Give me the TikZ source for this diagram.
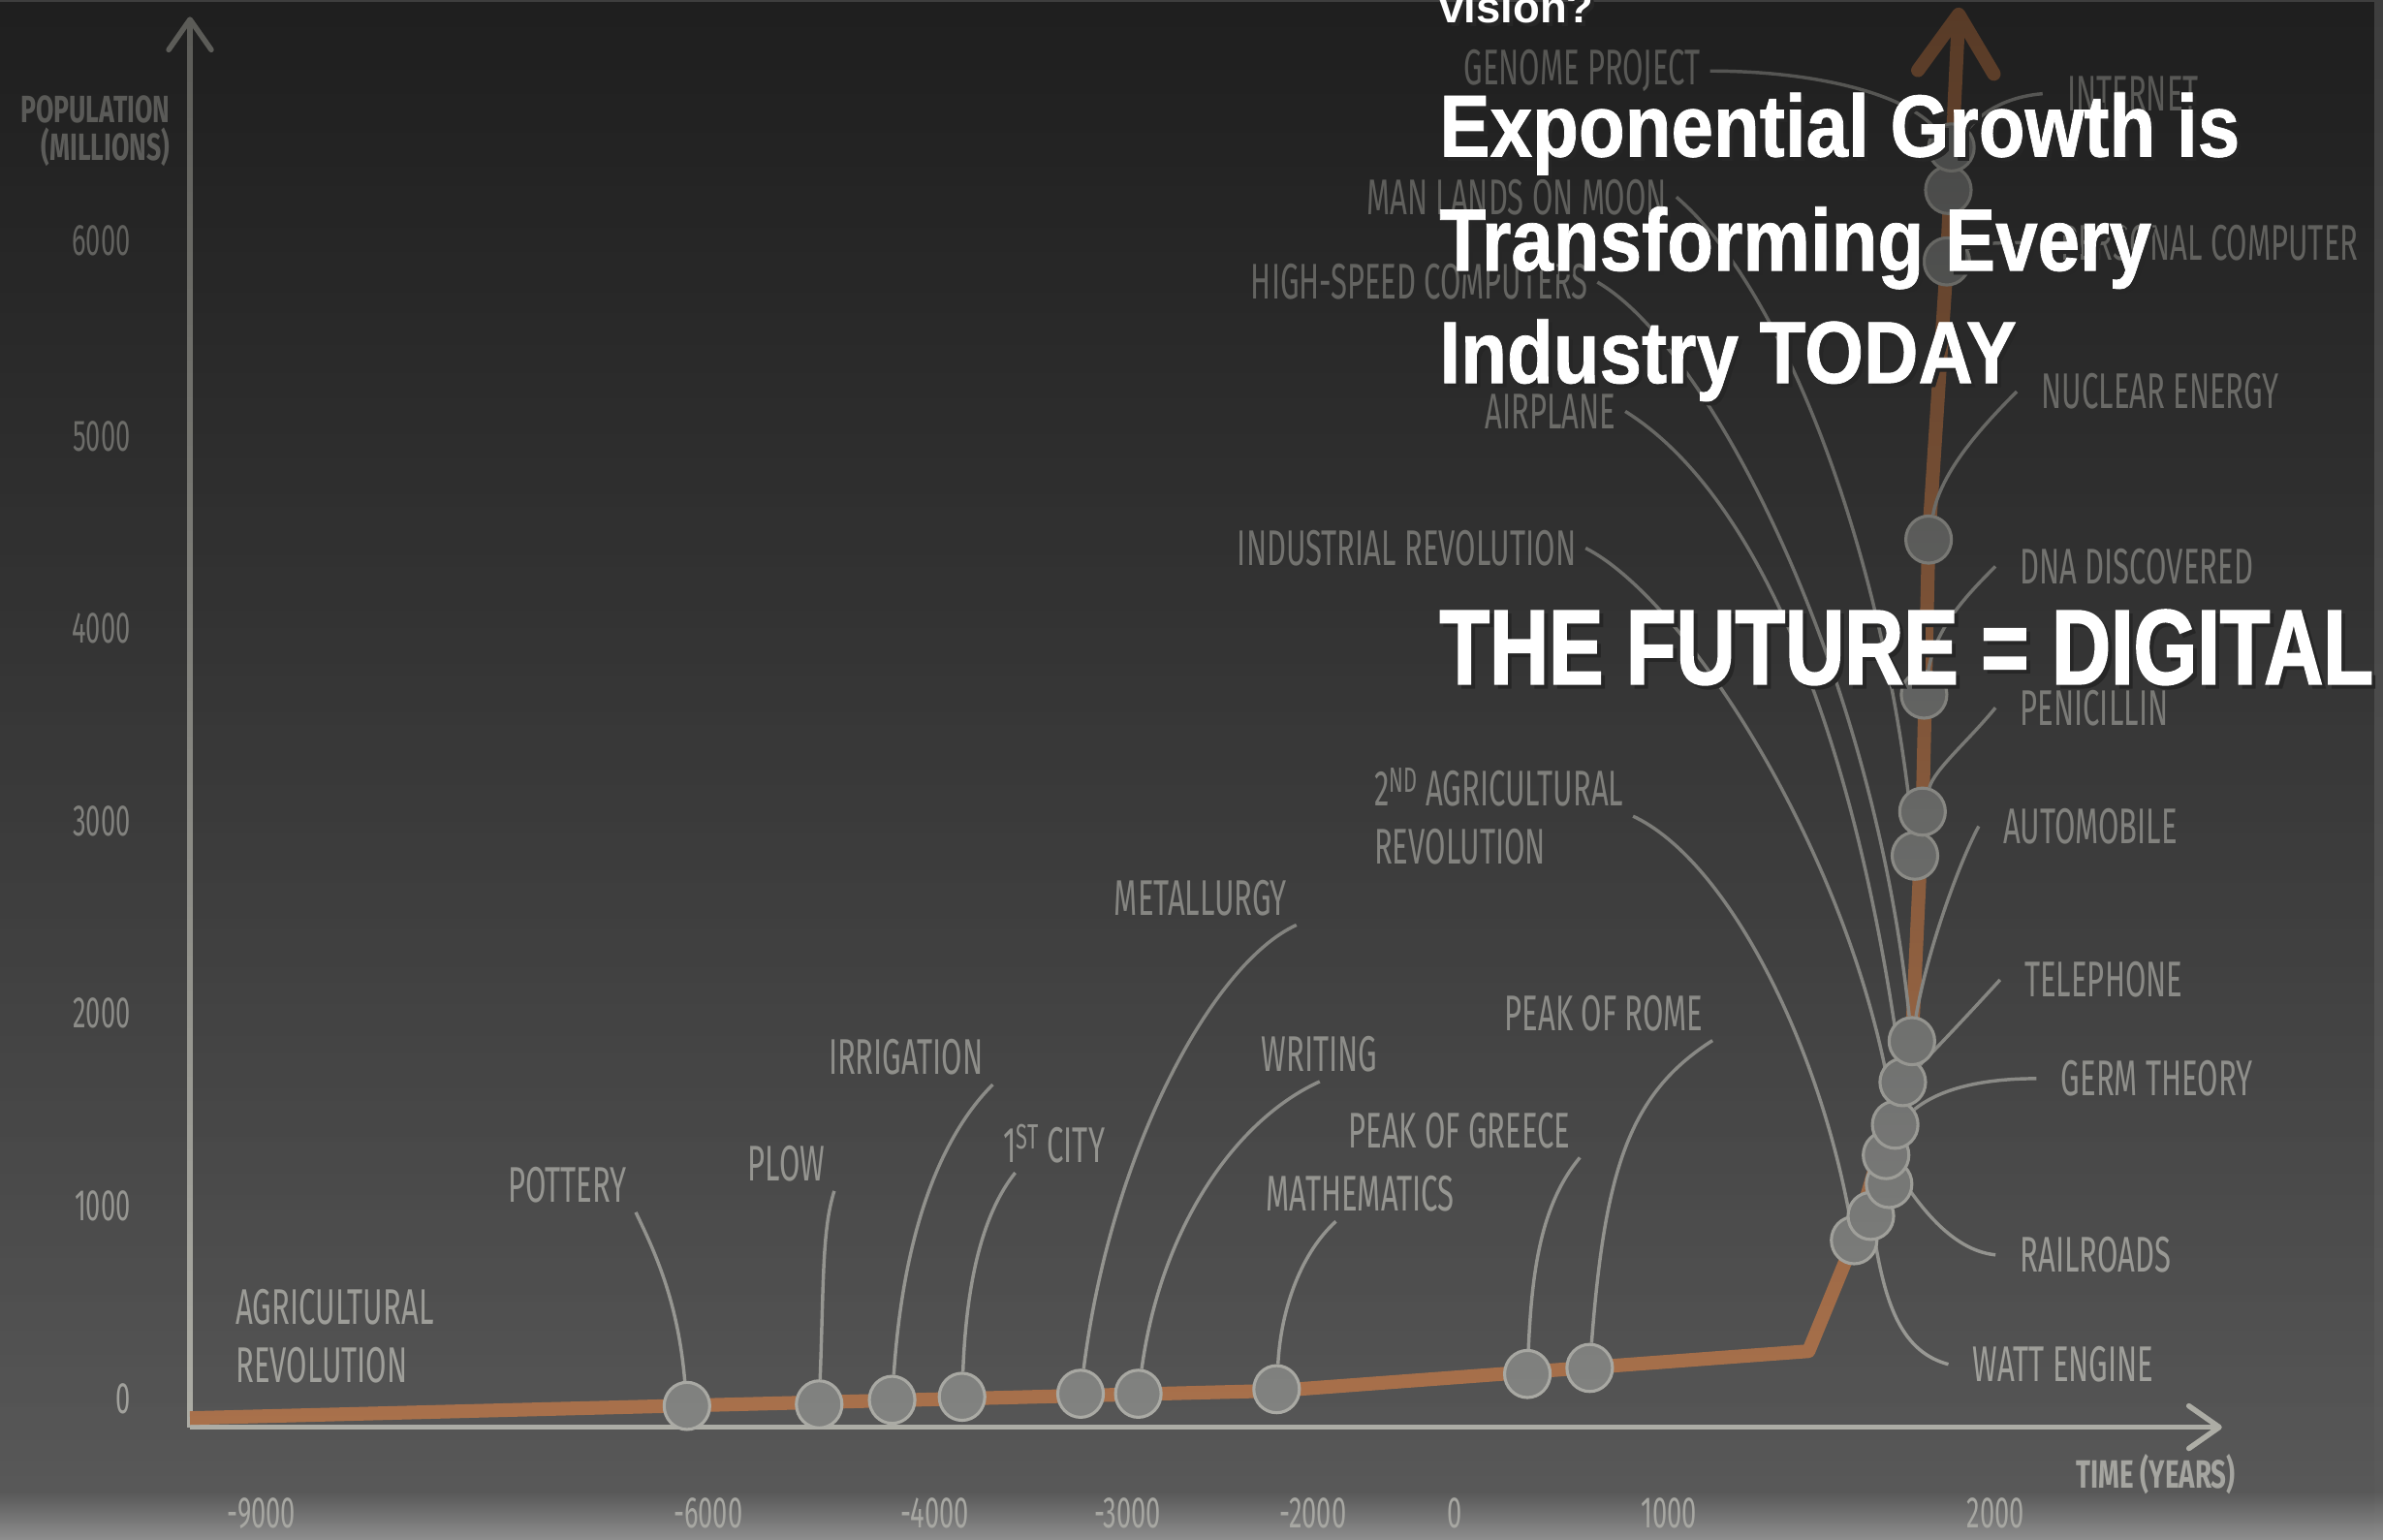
\documentclass[tikz,border=0pt]{standalone}
\usepackage{fontspec}
\setmainfont{Liberation Sans}
\newfontfamily\tagfont{Fira Sans}[FakeStretch=0.6]
\newfontfamily\axfont{Fira Sans}[FakeStretch=0.68]
\newfontfamily\headfont{Liberation Sans}[FakeStretch=0.86,FakeBold=0.8]
\newfontfamily\bigfont{Liberation Sans}[FakeStretch=0.77,FakeBold=1.6]
\usepackage{tikz}
\usetikzlibrary{positioning,shapes.geometric,arrows.meta,fadings}
\usepackage{xcolor}

\definecolor{bgtop}{HTML}{3E3E3E}
\definecolor{bgbot}{HTML}{5B5B5B}
\definecolor{bgfoot}{HTML}{8E8E8E}
\definecolor{tagcol}{HTML}{A9A9A4}
\definecolor{linkcol}{HTML}{A3A39E}
\definecolor{axiscol}{HTML}{B4B4AC}
\definecolor{dotfill}{HTML}{878886}
\definecolor{dotrim}{HTML}{B2B2AC}
\definecolor{rust}{HTML}{B0764F}

\tikzfading[name=veilfade,top color=transparent!50,bottom color=transparent!100]
\pgfdeclarelayer{back}
\pgfdeclarelayer{veil}
\pgfdeclarelayer{front}
\pgfsetlayers{back,main,veil,front}

\newcommand\shadowed[1]{\makebox[0pt][l]{\kern2.5pt\raisebox{-2.5pt}{\color{black!85}#1}}#1}

\begin{document}
\begin{tikzpicture}[x=1pt,y=-1pt,
    dot/.style={ellipse,draw=dotrim,fill=dotfill,line width=2pt,minimum width=30pt,minimum height=31pt,inner sep=0pt},
    tag/.style={text=tagcol,font=\tagfont\fontsize{33}{38.5}\selectfont,inner sep=6pt,anchor=base west},
    num/.style={text=tagcol,font=\tagfont\fontsize{29}{30}\selectfont,inner sep=6pt},
    axtitle/.style={text=tagcol,font=\axfont\bfseries\fontsize{25}{25}\selectfont,inner sep=6pt},
    head/.style={text=white,inner sep=0pt,anchor=base west},
    link/.style={draw=linkcol,line width=2.2pt},
    growth/.style={draw=rust,line width=9pt,line join=round},
    axis/.style={draw=axiscol,line width=3.5pt}]

    \begin{pgfonlayer}{back}
        \shade[top color=bgtop,bottom color=bgbot] (0,0) rectangle (1568,1013);
        \shade[top color=bgbot,bottom color=bgfoot] (0,982) rectangle (1568,1013);
    \end{pgfonlayer}
    \useasboundingbox (0,0) rectangle (1568,1013);

    \coordinate (o) at (125,939);
    \coordinate (ytip) at (125,11);
    \coordinate (xtip) at (1462,939);

    \node[dot] (d1) at (452,925) {};
    \node[dot] (d2) at (539,924) {};
    \node[dot] (d3) at (587,921) {};
    \node[dot] (d4) at (633,919) {};
    \node[dot] (d5) at (711,917) {};
    \node[dot] (d6) at (749,917) {};
    \node[dot] (d7) at (840,914) {};
    \node[dot] (d8) at (1005,904) {};
    \node[dot] (d9) at (1046,900) {};
    \node[dot] (d10) at (1220,816) {};
    \node[dot] (d11) at (1231,800) {};
    \node[dot] (d12) at (1243,779) {};
    \node[dot] (d13) at (1241,760) {};
    \node[dot] (d14) at (1247,740) {};
    \node[dot] (d15) at (1252,712) {};
    \node[dot] (d16) at (1258,685) {};
    \node[dot] (d17) at (1260,563) {};
    \node[dot] (d18) at (1265,534) {};
    \node[dot] (d19) at (1266,457) {};
    \node[dot] (d20) at (1269,355) {};
    \node[dot] (d21) at (1281,172) {};
    \node[dot] (d22) at (1282,125) {};
    \node[dot] (d23) at (1284,97) {};

    \node[tag,anchor=west,align=left] (t0) at (149,879) {AGRICULTURAL\\REVOLUTION};
    \node[tag] (t1) at (328,791) {POTTERY};
    \node[tag] (t2) at (486,777) {PLOW};
    \node[tag] (t3) at (539,707) {IRRIGATION};
    \node[tag] (t4) at (654,765) {1\textsuperscript{ST} CITY};
    \node[tag] (t5) at (727,602) {METALLURGY};
    \node[tag] (t6) at (824,705) {WRITING};
    \node[tag] (t7) at (827,797) {MATHEMATICS};
    \node[tag] (t8) at (881,755) {PEAK OF GREECE};
    \node[tag] (t9) at (984,678) {PEAK OF ROME};
    \node[tag,anchor=west,align=left] (t10) at (898,537) {2\textsuperscript{ND} AGRICULTURAL\\REVOLUTION};
    \node[tag] (t11) at (808,372) {INDUSTRIAL REVOLUTION};
    \node[tag] (t12) at (971,282) {AIRPLANE};
    \node[tag] (t13) at (817,197) {HIGH-SPEED COMPUTERS};
    \node[tag] (t14) at (893,141) {MAN LANDS ON MOON};
    \node[tag] (t15) at (957,56) {GENOME PROJECT};
    \node[tag] (t16) at (1354,73) {INTERNET};
    \node[tag] (t17) at (1350,171) {PERSONAL COMPUTER};
    \node[tag] (t18) at (1337,269) {NUCLEAR ENERGY};
    \node[tag] (t19) at (1323,384) {DNA DISCOVERED};
    \node[tag] (t20) at (1323,477) {PENICILLIN};
    \node[tag] (t21) at (1312,555) {AUTOMOBILE};
    \node[tag] (t22) at (1326,656) {TELEPHONE};
    \node[tag] (t23) at (1350,721) {GERM THEORY};
    \node[tag] (t24) at (1323,837) {RAILROADS};
    \node[tag] (t25) at (1292,909) {WATT ENGINE};

    \foreach \v/\h in {6000/158,5000/287,4000/413,3000/540,2000/666,1000/793,0/920}
        \node[num,anchor=base east] (y\v) at (92,\h+10) {\v};
    \foreach \v/\h in {-9000/172,-6000/466,-4000/615,-3000/742,-2000/864,0/957,1000/1098,2000/1313}
        \node[num,anchor=base] (x\v) at (\h,1005) {\v};
    \node[axtitle,anchor=east,align=right] (ylab) at (118,86) {POPULATION\\(MILLIONS)};
    \node[axtitle,anchor=base west,font=\axfont\bfseries\fontsize{26}{26}\selectfont] (xlab) at (1360,979) {TIME (YEARS)};

    \begin{pgfonlayer}{back}
        \draw[axis,-{Straight Barb[length=20pt,width=28pt,round]}] (o) -- (ytip);
        \draw[axis,-{Straight Barb[length=20pt,width=28pt,round]}] (o) -- (xtip);
        \draw[growth,-{Straight Barb[length=38pt,width=50pt,round]}] (125,933) -- (840,915) -- (1190,889) -- (1220,816) -- (1258,685) -- (1265,534) -- (1269,355) -- (1281,172) -- (1289,5);

        \draw[link] (t1.south east) .. controls +(12,25) and +(-6,-70) .. (d1);
        \draw[link] (t2.south east) .. controls +(-8,25) and +(3,-80) .. (d2);
        \draw[link] (t3.south east) .. controls +(-30,30) and +(8,-120) .. (d3);
        \draw[link] ([xshift=14pt]t4.south west) .. controls +(-20,25) and +(3,-80) .. (d4);
        \draw[link] (t5.south east) .. controls +(-55,25) and +(20,-160) .. (d5);
        \draw[link] (t6.south) .. controls +(-55,25) and +(15,-110) .. (d6);
        \draw[link] ([xshift=-16pt]t7.south) .. controls +(-22,20) and +(3,-55) .. (d7);
        \draw[link] (t8.south east) .. controls +(-25,30) and +(3,-70) .. (d8);
        \draw[link] (t9.south east) .. controls +(-55,35) and +(10,-130) .. (d9);
        \draw[link] (t10.east) .. controls +(60,28) and +(-25,-135) .. (d10);
        \draw[link] (t11.east) .. controls +(65,33) and +(-30,-180) .. (d14);
        \draw[link] (t12.east) .. controls +(80,50) and +(-35,-250) .. (d15);
        \draw[link] (t13.east) .. controls +(70,40) and +(-27,-255) .. (d16);
        \draw[link] (t14.east) .. controls +(70,60) and +(-20,-200) .. (d17);
        \draw[link] (t15.east) .. controls +(70,0) and +(-30,-35) .. (d23);
        \draw[link] ([xshift=-10pt]t16.west) .. controls +(-35,3) and +(6,-40) .. (d22);
        \draw[link] ([xshift=-10pt]t17.west) .. controls +(-30,0) and +(20,-12) .. (d21);
        \draw[link] ([xshift=-10pt]t18.west) .. controls +(-22,22) and +(8,-45) .. (d20);
        \draw[link] ([xshift=-10pt]t19.west) .. controls +(-18,18) and +(8,-45) .. (d19);
        \draw[link] ([xshift=-10pt]t20.west) .. controls +(-18,22) and +(8,-28) .. (d18);
        \draw[link] ([xshift=-10pt]t21.west) .. controls +(-12,22) and +(10,-60) .. (d16);
        \draw[link] ([xshift=-10pt]t22.west) .. controls +(-20,22) and +(18,-18) .. (d15);
        \draw[link] ([xshift=-10pt]t23.west) .. controls +(-45,0) and +(25,-20) .. (d14);
        \draw[link] ([xshift=-10pt]t24.west) .. controls +(-30,-3) and +(20,30) .. (d13);
        \draw[link] ([xshift=-10pt]t25.west) .. controls +(-30,-8) and +(10,60) .. (d11);
    \end{pgfonlayer}

    \begin{pgfonlayer}{veil}
        \fill[black,path fading=veilfade] (0,0) rectangle (1568,1013);
    \end{pgfonlayer}

    \begin{pgfonlayer}{front}
        \node[head,font=\bfseries\fontsize{29}{30}\selectfont] (h1) at (947,15) {\shadowed{vision?}};
        \node[head,font=\headfont\bfseries\fontsize{58}{60}\selectfont] (h2) at (947,103) {\shadowed{Exponential Growth is}};
        \node[head,font=\headfont\bfseries\fontsize{58}{60}\selectfont] (h3) at (947,178) {\shadowed{Transforming Every}};
        \node[head,font=\headfont\bfseries\fontsize{58}{60}\selectfont] (h4) at (947,252) {\shadowed{Industry TODAY}};
        \node[head,font=\bigfont\bfseries\fontsize{70}{72}\selectfont] (h5) at (947,450) {\shadowed{THE FUTURE = DIGITAL}};
    \end{pgfonlayer}
\end{tikzpicture}
\end{document}
